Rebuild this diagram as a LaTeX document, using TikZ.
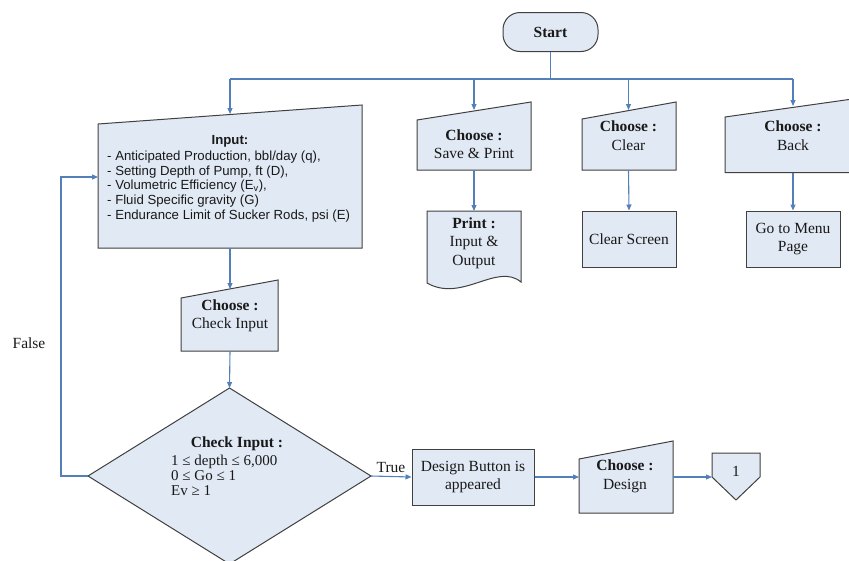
\documentclass[tikz,border=0pt]{standalone}
\usepackage{fontspec}
\setmainfont{Liberation Serif}
\newfontfamily\arialf{Liberation Sans}
\usetikzlibrary{arrows.meta}
\definecolor{fillc}{RGB}{225,233,244}
\definecolor{linec}{RGB}{64,64,64}
\definecolor{arrc}{RGB}{84,128,186}
\definecolor{txtc}{RGB}{25,25,25}

% quadrilateral with a slanted top edge (manual input)
\newcommand\slantbox[5]{% left x, right x, top-left y, top-right y, bottom y
  \draw[shp] (#1,#3) -- (#2,#4) -- (#2,#5) -- (#1,#5) -- cycle;
}

\begin{document}
\begin{tikzpicture}[x=1pt,y=-1pt,
  shp/.style={draw=linec,fill=fillc,line width=1pt,line join=miter},
  conn/.style={draw=arrc,line width=1.1pt},
  arr/.style={conn,-{Triangle[length=6pt,width=5pt]}},
  lbl/.style={text=txtc,inner sep=0pt,align=center,
    font=\fontsize{15.5}{18.5}\selectfont},
  small/.style={text=txtc,inner sep=0pt,anchor=base west,
    font=\fontsize{15}{15}\selectfont},
  sans/.style={text=txtc,inner sep=0pt,align=left,
    font=\arialf\fontsize{13.2}{14.8}\selectfont}]
\useasboundingbox (0,0) rectangle (849,560);

% ---- start terminator and branch line
\node[shp,rounded corners=17pt,minimum width=95pt,minimum height=39pt,
  lbl,font=\bfseries\fontsize{15.5}{18.5}\selectfont] (start) at (550.5,32) {Start};
\coordinate (hub) at (550.5,79);
\coordinate (brL) at (230,79);
\coordinate (brS) at (474,79);
\coordinate (brC) at (628.5,79);
\coordinate (brR) at (793,79);
\draw[conn] (start.south) -- (hub);
\draw[conn] (brL) -- (brR);

% ---- input form
\slantbox{98}{362}{124}{105}{248}
\coordinate (in-n) at (230,114);
\coordinate (in-s) at (230,248);
\coordinate (in-w) at (98,177);
\node[sans,font=\arialf\bfseries\fontsize{13.2}{14.8}\selectfont] (inhead) at (230,141) {Input:};
\node[sans,anchor=west] (inlist) at (107,186.5) {- Anticipated Production, bbl/day (q),\\
- Setting Depth of Pump, ft (D),\\
- Volumetric Efficiency (E\textsubscript{v}),\\
- Fluid Specific gravity (G)\\
- Endurance Limit of Sucker Rods, psi (E)};

% ---- choose: save & print
\slantbox{417}{531}{120}{102}{170}
\coordinate (sv-n) at (474,110);
\coordinate (sv-s) at (474,170);
\node[lbl] (svtext) at (474,144) {\textbf{Choose :}\\Save \& Print};

% printed document
\coordinate (pr-n) at (474,211);
\draw[shp] (427,283) -- (427,211) -- (521,211) -- (521,282)
  .. controls (497,262) and (462,303) .. cycle;
\node[lbl] (prtext) at (474,243) {\textbf{Print :}\\Input \&\\Output};

% ---- choose: clear
\slantbox{582}{676}{119}{102}{170}
\coordinate (cl-n) at (628.5,110);
\coordinate (cl-s) at (628.5,170);
\node[lbl] (cltext) at (628.5,135.5) {\textbf{Choose :}\\Clear};
\node[shp,minimum width=94pt,minimum height=56pt,lbl] (clscr) at (629,239) {Clear Screen};

% ---- choose: back
\slantbox{725}{861}{117}{97.8}{172.5}
\coordinate (bk-n) at (793,106);
\coordinate (bk-s) at (793,172.5);
\node[lbl] (bktext) at (793,135.5) {\textbf{Choose :}\\Back};
\node[shp,minimum width=94pt,minimum height=56pt,lbl] (menu) at (793,239) {Go to Menu\\Page};

% ---- choose: check input
\slantbox{181}{278}{298}{280}{351}
\coordinate (ck-n) at (230,289);
\coordinate (ck-s) at (230,351);
\node[lbl] (cktext) at (230,316) {\textbf{Choose :}\\Check Input};

% ---- decision
\draw[shp] (88,476) -- (229.5,388) -- (371,476) -- (229.5,564) -- cycle;
\coordinate (dc-n) at (229.5,388);
\coordinate (dc-w) at (88,476);
\coordinate (dc-e) at (371,476);
\node[lbl,font=\bfseries\fontsize{15.5}{18.5}\selectfont] (dchead) at (237,444) {Check Input :};
\node[small] (dc1) at (171,465) {1 ≤ depth ≤ 6,000};
\node[small] (dc2) at (171,480) {0 ≤ Go ≤ 1};
\node[small] (dc3) at (171,495) {Ev ≥ 1};

% false loop back to the input form
\coordinate (lpB) at (61,476);
\coordinate (lpT) at (61,177);
\node[lbl] (false) at (29,343) {False};

% ---- true branch
\node[shp,minimum width=122pt,minimum height=56pt,lbl] (design) at (473,477) {Design Button is\\appeared};
\node[lbl,anchor=south] (true) at (391,473) {True};

\slantbox{579}{673}{459}{441}{513}
\coordinate (cd-w) at (579,477);
\coordinate (cd-e) at (673,477);
\node[lbl] (cdtext) at (625,476.5) {\textbf{Choose :}\\Design};

% off-page connector
\draw[shp] (712,453) -- (760,453) -- (760,477) -- (736,500) -- (712,477) -- cycle;
\coordinate (op-w) at (712,477);
\node[lbl] (optext) at (736,471) {1};

% ---- connectors
\draw[arr] (brL) -- (in-n);
\draw[arr] (brS) -- (sv-n);
\draw[arr] (brC) -- (cl-n);
\draw[arr] (brR) -- (bk-n);
\draw[arr] (sv-s) -- (pr-n);
\draw[arr] (cl-s) -- (clscr.north);
\draw[arr] (bk-s) -- (menu.north);
\draw[arr] (in-s) -- (ck-n);
\draw[arr] (ck-s) -- (dc-n);
\draw[arr] (dc-w) -- (lpB) -- (lpT) -- (in-w);
\draw[arr] (dc-e) -- (design.west);
\draw[arr] (design.east) -- (cd-w);
\draw[arr] (cd-e) -- (op-w);
\end{tikzpicture}
\end{document}
